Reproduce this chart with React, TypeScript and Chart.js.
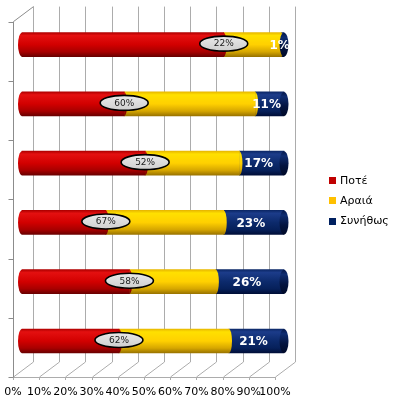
import React, { useEffect, useRef } from 'react';
import { Chart, registerables } from 'chart.js';

Chart.register(...registerables);

// ---- data ----
const categories = ['1', '2', '3', '4', '5', '6'];
const seriesNames = ['Ποτέ', 'Αραιά', 'Συνήθως'];
const pote = [77, 39, 47, 32, 41, 37];
const araia = [22, 50, 36, 45, 33, 42];
const synithos = [1, 11, 17, 23, 26, 21];
const calloutLabels = ['22%', '60%', '52%', '67%', '58%', '62%'];
const tickValues = [0, 10, 20, 30, 40, 50, 60, 70, 80, 90, 100];

// ---- styles ----
const legendColors = ['#c00000', '#ffc000', '#002060'];
const redStops: [number, string][] = [[0, '#b00000'], [0.12, '#e41010'], [0.5, '#d20000'], [0.8, '#a80000'], [1, '#6a0000']];
const yellowStops: [number, string][] = [[0, '#e8b800'], [0.12, '#ffe000'], [0.5, '#ffd000'], [0.8, '#d6a600'], [1, '#9a7400']];
const navyStops: [number, string][] = [[0, '#0c2868'], [0.12, '#1c3c8a'], [0.5, '#0c2a6c'], [0.8, '#06205a'], [1, '#000e38']];
const capStops: [number, string][] = [[0, '#05184a'], [0.2, '#0e2c70'], [0.6, '#031440'], [1, '#000a28']];
const BAR_H = 24;

function makeGrad(c: CanvasRenderingContext2D, yc: number, stops: [number, string][]) {
  const g = c.createLinearGradient(0, yc - BAR_H / 2, 0, yc + BAR_H / 2);
  stops.forEach(([o, col]) => g.addColorStop(o, col));
  return g;
}

const gradFill = (stops: [number, string][]) => (ctx: any) => {
  const chart = ctx.chart;
  const y = chart.scales && chart.scales.y;
  if (!chart.chartArea || !y || ctx.dataIndex === undefined) return stops[2][1];
  const yc = y.getPixelForValue(ctx.dataIndex);
  return makeGrad(chart.ctx, yc, stops);
};

const framePlugin = {
  id: 'frame3d',
  beforeDatasetsDraw(chart: any) {
    const { ctx, chartArea } = chart;
    const xt = chart.scales.xt;
    const top = chartArea.top + 6.6;
    const bottom = chartArea.bottom + 6.4;
    const dx = 20, dy = -15;
    ctx.save();
    ctx.strokeStyle = '#acacac';
    ctx.lineWidth = 1;
    tickValues.forEach((v) => {
      const x = Math.round(xt.getPixelForValue(v)) + 0.5;
      ctx.beginPath();
      ctx.moveTo(x + dx, top + dy);
      ctx.lineTo(x + dx, bottom + dy);
      ctx.stroke();
      ctx.beginPath();
      ctx.moveTo(x, bottom);
      ctx.lineTo(x + dx, bottom + dy);
      ctx.stroke();
      ctx.beginPath();
      ctx.moveTo(x, bottom);
      ctx.lineTo(x, bottom + 3);
      ctx.stroke();
    });
    const x0 = Math.round(xt.getPixelForValue(0)) + 0.5;
    const x100 = Math.round(xt.getPixelForValue(100)) + 0.5;
    ctx.beginPath();
    ctx.moveTo(x0, Math.round(bottom) + 0.5);
    ctx.lineTo(x100, Math.round(bottom) + 0.5);
    ctx.stroke();
    ctx.strokeStyle = '#8c8c8c';
    ctx.beginPath();
    ctx.moveTo(x0, top);
    ctx.lineTo(x0, bottom);
    ctx.moveTo(x0, top);
    ctx.lineTo(x0 + dx, top + dy);
    for (let i = 0; i <= categories.length; i++) {
      const y = Math.round(top + (i * (bottom - top)) / categories.length) + 0.5;
      ctx.moveTo(x0 - 5, y);
      ctx.lineTo(x0, y);
    }
    ctx.stroke();
    ctx.restore();
  },
  afterDatasetsDraw(chart: any) {
    const { ctx } = chart;
    const m0 = chart.getDatasetMeta(0).data;
    const m1 = chart.getDatasetMeta(1).data;
    const m2 = chart.getDatasetMeta(2).data;
    ctx.save();
    categories.forEach((_, i) => {
      const r = m0[i], yl = m1[i], n = m2[i];
      const yc = r.y;
      ctx.beginPath();
      ctx.ellipse(r.base, yc, 4, BAR_H / 2, 0, Math.PI / 2, (3 * Math.PI) / 2);
      ctx.fillStyle = makeGrad(ctx, yc, redStops);
      ctx.fill();
      ctx.beginPath();
      ctx.ellipse(r.x, yc, 3, BAR_H / 2, 0, -Math.PI / 2, Math.PI / 2);
      ctx.fill();
      ctx.beginPath();
      ctx.ellipse(yl.x, yc, 3, BAR_H / 2, 0, -Math.PI / 2, Math.PI / 2);
      ctx.fillStyle = makeGrad(ctx, yc, yellowStops);
      ctx.fill();
      ctx.beginPath();
      ctx.ellipse(n.x, yc, 4.5, BAR_H / 2, 0, 0, Math.PI * 2);
      ctx.fillStyle = makeGrad(ctx, yc, capStops);
      ctx.fill();
    });
    categories.forEach((_, i) => {
      const r = m0[i];
      const cx = r.x, cy = r.y - 1;
      ctx.beginPath();
      ctx.ellipse(cx, cy, 24, 7.5, 0, 0, Math.PI * 2);
      const g = ctx.createLinearGradient(0, cy - 7, 0, cy + 7);
      g.addColorStop(0, '#e8e8e8');
      g.addColorStop(1, '#d0d0d0');
      ctx.fillStyle = g;
      ctx.fill();
      ctx.lineWidth = 1.6;
      ctx.strokeStyle = '#000';
      ctx.stroke();
      ctx.fillStyle = '#1a1a1a';
      ctx.font = '9px "DejaVu Sans", Verdana, sans-serif';
      ctx.textAlign = 'center';
      ctx.textBaseline = 'middle';
      ctx.fillText(calloutLabels[i], cx, cy + 0.5);
    });
    categories.forEach((_, i) => {
      const n = m2[i];
      const cx = (n.base + n.x) / 2 - 3;
      ctx.fillStyle = '#ffffff';
      ctx.font = 'bold 12px "DejaVu Sans", Verdana, sans-serif';
      ctx.textAlign = 'center';
      ctx.textBaseline = 'middle';
      ctx.fillText(synithos[i] + '%', cx, n.y + 1);
    });
    ctx.restore();
  },
  afterDraw(chart: any) {
    const { ctx } = chart;
    ctx.save();
    ctx.font = '11px "DejaVu Sans", Verdana, sans-serif';
    ctx.textBaseline = 'middle';
    ctx.textAlign = 'left';
    seriesNames.forEach((name, i) => {
      const y = 180 + i * 20.3;
      ctx.fillStyle = legendColors[i];
      ctx.fillRect(329, Math.round(y) - 3, 7, 7);
      ctx.fillStyle = '#000';
      ctx.fillText(name, 340, y + 1);
    });
    ctx.restore();
  },
};

export default function App() {
  const ref = useRef<HTMLCanvasElement>(null);
  useEffect(() => {
    if (!ref.current) return;
    const chart = new Chart(ref.current, {
      type: 'bar',
      data: {
        labels: categories,
        datasets: [
          { label: seriesNames[0], data: pote, backgroundColor: gradFill(redStops), borderWidth: 0, barThickness: BAR_H },
          { label: seriesNames[1], data: araia, backgroundColor: gradFill(yellowStops), borderWidth: 0, barThickness: BAR_H },
          { label: seriesNames[2], data: synithos, backgroundColor: gradFill(navyStops), borderWidth: 0, barThickness: BAR_H },
        ],
      },
      options: {
        indexAxis: 'y',
        animation: false,
        responsive: false,
        devicePixelRatio: 1,
        layout: { padding: { top: 15, left: 13, right: 102, bottom: 1 } },
        plugins: { legend: { display: false }, tooltip: { enabled: false } },
        scales: {
          x: { type: 'linear', stacked: true, min: -3.44, max: 104.2, display: false },
          xt: {
            type: 'linear',
            position: 'bottom',
            axis: 'x',
            min: 0,
            max: 107.63,
            grid: { display: false, drawTicks: false },
            border: { display: false },
            afterFit: (s: any) => {
              s.height = 28.4;
              s.paddingLeft = 0;
              s.paddingRight = 0;
            },
            ticks: {
              stepSize: 10,
              includeBounds: false,
              autoSkip: false,
              maxRotation: 0,
              minRotation: 0,
              padding: 15,
              color: '#000',
              font: { family: '"DejaVu Sans", Verdana, sans-serif', size: 11 },
              callback: (v: any) => (Number(v) <= 100 ? v + '%' : ''),
            },
          },
          y: { type: 'category', stacked: true, display: false },
        },
      } as any,
      plugins: [framePlugin],
    });
    return () => chart.destroy();
  }, []);
  return (
    <div style={{ position: 'fixed', left: 0, top: 0, width: 397, height: 400, background: '#fff' }}>
      <canvas ref={ref} width={397} height={400} />
    </div>
  );
}
